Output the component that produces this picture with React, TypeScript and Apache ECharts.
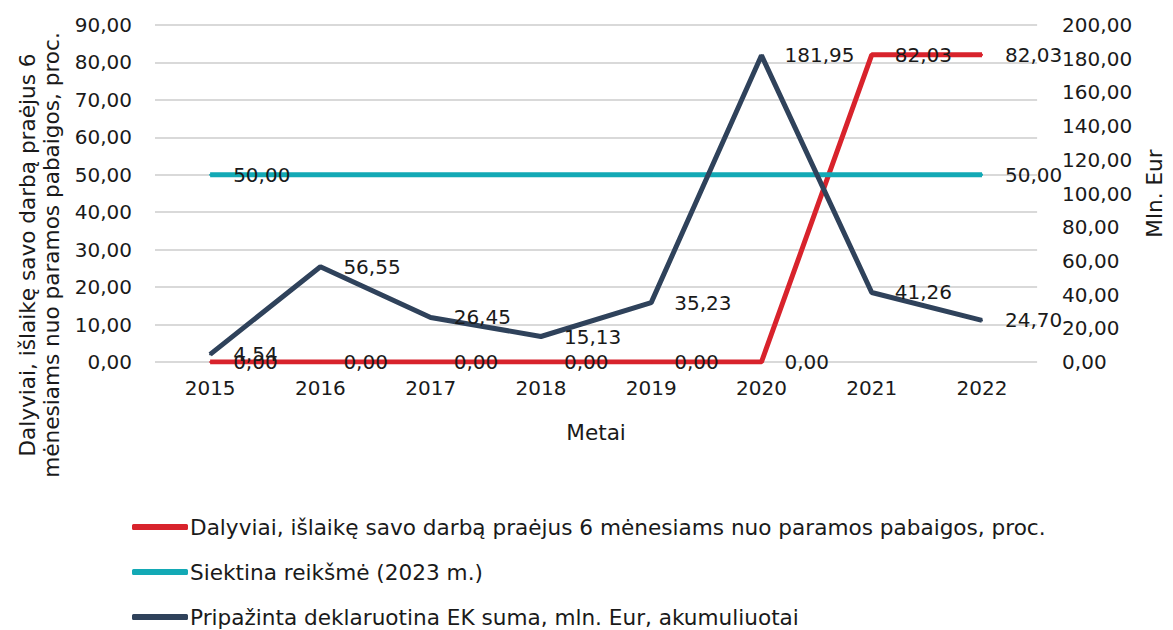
import React, { useEffect, useRef } from "react";
import * as echarts from "echarts";

const years = ["2015", "2016", "2017", "2018", "2019", "2020", "2021", "2022"];
const participantsPct = [0, 0, 0, 0, 0, 0, 82.03, 82.03];
const targetValue = [50, 50, 50, 50, 50, 50, 50, 50];
const declaredSum = [4.54, 56.55, 26.45, 15.13, 35.23, 181.95, 41.26, 24.7];

const seriesNames = [
  "Dalyviai, išlaikę savo darbą praėjus 6 mėnesiams nuo paramos pabaigos, proc.",
  "Siektina reikšmė (2023 m.)",
  "Pripažinta deklaruotina EK suma, mln. Eur, akumuliuotai",
];
const leftAxisTitle = "Dalyviai, išlaikę savo darbą praėjus 6\nmėnesiams nuo paramos pabaigos, proc.";
const rightAxisTitle = "Mln. Eur";
const xAxisTitle = "Metai";

const FONT = "DejaVu Sans";
const TEXT_SIZE = 21.6;
const fmt = (v: number) => v.toFixed(2).replace(".", ",");

export default function App() {
  const ref = useRef<HTMLDivElement>(null);
  useEffect(() => {
    if (!ref.current) return;
    const chart = echarts.init(ref.current, null, { renderer: "svg" });
    const labelBase = {
      show: true,
      position: "right" as const,
      distance: 22,
      fontFamily: FONT,
      fontSize: 20,
      color: "#1a1a1a",
      formatter: (p: any) => fmt(Number(p.value)),
    };
    const lastIdx = targetValue.length - 1;
    chart.setOption({
      animation: false,
      textStyle: { fontFamily: FONT },
      grid: { left: 155, right: 133, top: 25, bottom: 268, containLabel: false },
      legend: {
        orient: "vertical",
        left: 132,
        top: 516,
        height: 200,
        padding: 0,
        itemWidth: 56,
        itemHeight: 6,
        itemGap: 23,
        icon: "roundRect",
        textStyle: { fontFamily: FONT, fontSize: TEXT_SIZE, color: "#1a1a1a", padding: [0, 0, 0, -3] },
        data: seriesNames,
      },
      graphic: [
        {
          type: "text",
          x: 39,
          y: 255,
          rotation: Math.PI / 2,
          style: {
            text: leftAxisTitle,
            fontFamily: FONT,
            fontSize: TEXT_SIZE,
            lineHeight: 24,
            fill: "#1a1a1a",
            align: "center",
            verticalAlign: "middle",
          },
        },
      ],
      xAxis: {
        type: "category",
        data: years,
        boundaryGap: true,
        axisLine: { show: false },
        axisTick: { show: false },
        axisLabel: { fontFamily: FONT, fontSize: 20, color: "#1a1a1a", margin: 16 },
        name: xAxisTitle,
        nameLocation: "middle",
        nameGap: 59,
        nameTextStyle: { fontFamily: FONT, fontSize: TEXT_SIZE, color: "#1a1a1a", verticalAlign: "top" },
      },
      yAxis: [
        {
          type: "value",
          min: 0,
          max: 90,
          interval: 10,
          axisLine: { show: false },
          axisTick: { show: false },
          axisLabel: { fontFamily: FONT, fontSize: 20, color: "#1a1a1a", margin: 23, formatter: (v: number) => fmt(v) },
          splitLine: { lineStyle: { color: "#d9d9d9", width: 2 } },
        },
        {
          type: "value",
          min: 0,
          max: 200,
          interval: 20,
          position: "right",
          axisLine: { show: false },
          axisTick: { show: false },
          axisLabel: { fontFamily: FONT, fontSize: 20, color: "#1a1a1a", margin: 25, formatter: (v: number) => fmt(v) },
          splitLine: { show: false },
          name: rightAxisTitle,
          nameLocation: "middle",
          nameRotate: 90,
          nameGap: 105,
          nameTextStyle: { fontFamily: FONT, fontSize: TEXT_SIZE, color: "#1a1a1a" },
        },
      ],
      series: [
        {
          name: seriesNames[0],
          type: "line",
          yAxisIndex: 0,
          data: participantsPct,
          symbol: "circle",
          symbolSize: 2,
          showSymbol: true,
          lineStyle: { color: "#d8232c", width: 5 },
          itemStyle: { color: "#d8232c" },
          label: labelBase,
          z: 2,
        },
        {
          name: seriesNames[1],
          type: "line",
          yAxisIndex: 0,
          data: targetValue.map((v, i) => ({
            value: v,
            label: { show: i === 0 || i === lastIdx },
          })),
          symbol: "circle",
          symbolSize: 2,
          showSymbol: true,
          lineStyle: { color: "#13a9b5", width: 5 },
          itemStyle: { color: "#13a9b5" },
          label: labelBase,
          z: 3,
        },
        {
          name: seriesNames[2],
          type: "line",
          yAxisIndex: 1,
          data: declaredSum,
          symbol: "circle",
          symbolSize: 2,
          showSymbol: true,
          lineStyle: { color: "#2f425b", width: 5 },
          itemStyle: { color: "#2f425b" },
          label: labelBase,
          z: 4,
        },
      ],
    });
    return () => chart.dispose();
  }, []);
  return (
    <div
      ref={ref}
      style={{ position: "fixed", left: 0, top: 0, width: 1173, height: 630, background: "#fff" }}
    />
  );
}
